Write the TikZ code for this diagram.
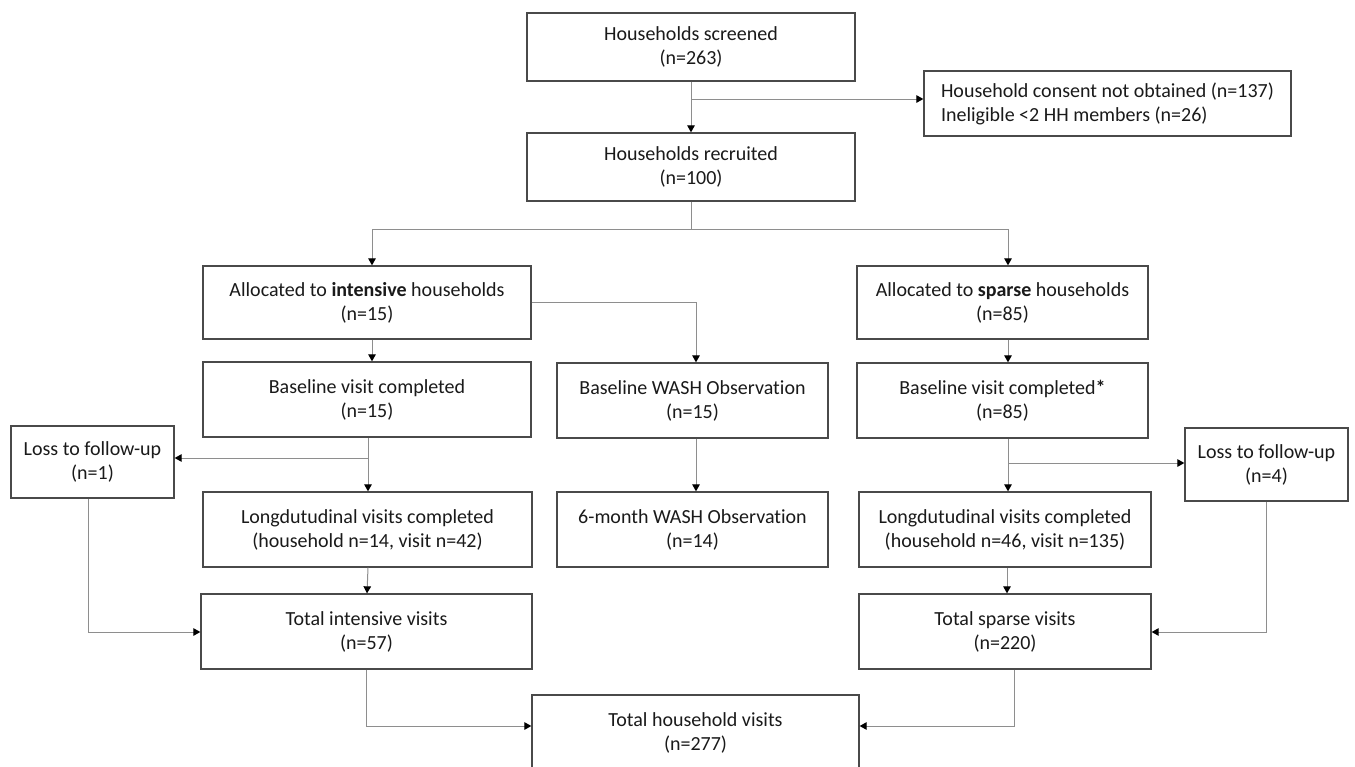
\documentclass[tikz,border=0pt]{standalone}
\usepackage{fontspec}
\setmainfont{Carlito}[Ligatures=NoCommon]
\usetikzlibrary{arrows.meta}
\definecolor{boxline}{HTML}{4A4A4A}
\definecolor{linkline}{HTML}{8E8E8E}
\definecolor{txt}{HTML}{1A1A1A}
\begin{document}
\begin{tikzpicture}[x=1pt,y=-1pt,
  stepbox/.style={draw=boxline,line width=1.3pt,fill=white,text=txt,align=center,
    inner sep=0pt,font=\fontsize{20}{24}\selectfont},
  link/.style={draw=linkline,line width=1pt},
  arr/.style={link,-{Triangle[width=7.5pt,length=7pt,color=black]}}]
\useasboundingbox (0,0) rectangle (1355,766);
\fill[white] (0,0) rectangle (1355,766);

% boxes
\node[stepbox,minimum width=328,minimum height=68] (scr) at (691,47) {Households screened\\(n=263)};
\node[stepbox,minimum width=367,minimum height=65,align=left] (cons) at (1107.5,103.5)
  {Household consent not obtained (n=137)\\Ineligible <2 HH members (n=26)};
\node[stepbox,minimum width=328,minimum height=68] (rec) at (691,167) {Households recruited\\(n=100)};

\node[stepbox,minimum width=328,minimum height=73] (ai) at (367,302.5) {Allocated to \textbf{intensive} households\\(n=15)};
\node[stepbox,minimum width=291,minimum height=73] (as) at (1002.5,302.5) {Allocated to \textbf{sparse} households\\(n=85)};

\node[stepbox,minimum width=328,minimum height=75] (bi) at (367,399.5) {Baseline visit completed\\(n=15)};
\node[stepbox,minimum width=271,minimum height=75] (wash) at (692.5,400.5) {Baseline WASH Observation\\(n=15)};
\node[stepbox,minimum width=291,minimum height=75] (bs) at (1002.5,400.5) {Baseline visit completed\textbf{*}\\(n=85)};

\node[stepbox,minimum width=163,minimum height=72] (lossL) at (92.5,462) {Loss to follow-up\\(n=1)};
\node[stepbox,minimum width=163,minimum height=73] (lossR) at (1266.5,464.5) {Loss to follow-up\\(n=4)};

\node[stepbox,minimum width=329,minimum height=75] (li) at (367.5,529.5) {Longdutudinal visits completed\\(household n=14, visit n=42)};
\node[stepbox,minimum width=271,minimum height=75] (six) at (692.5,529.5) {6-month WASH Observation\\(n=14)};
\node[stepbox,minimum width=292,minimum height=75] (ls) at (1005,529.5) {Longdutudinal visits completed\\(household n=46, visit n=135)};

\node[stepbox,minimum width=331,minimum height=75] (ti) at (366.5,631.5) {Total intensive visits\\(n=57)};
\node[stepbox,minimum width=292,minimum height=75] (ts) at (1005,631.5) {Total sparse visits\\(n=220)};

\node[stepbox,minimum width=327,minimum height=75] (th) at (695.5,732.5) {Total household visits\\(n=277)};

% branch points
\coordinate (brA) at (691,99);
\coordinate (split) at (691,229);
\coordinate (brL) at (368,458);
\coordinate (brR) at (1008,463);

% connectors
\draw[arr] (scr.south) -- (rec.north);
\draw[arr] (brA) -- (brA -| cons.west);
\draw[link] (rec.south) -- (split);
\draw[arr] (split) -| ([xshift=5]ai.north);
\draw[arr] (split) -| ([xshift=5.5]as.north);

\draw[arr] ([xshift=5]ai.south) -- ([xshift=5]bi.north);
\draw[arr] ([xshift=5.5]as.south) -- ([xshift=5.5]bs.north);
\draw[arr] (ai.east) -| ([xshift=3.5]wash.north);
\draw[arr] ([xshift=3.5]wash.south) -- ([xshift=3.5]six.north);

\draw[arr] ([xshift=1]bi.south) -- ([xshift=0.5]li.north);
\draw[arr] (brL) -- (brL -| lossL.east);
\draw[arr] ([xshift=5.5]bs.south) -- ([xshift=3]ls.north);
\draw[arr] (brR) -- (brR -| lossR.west);

\draw[arr] ([xshift=0.5]li.south) -- ([xshift=0.5]ti.north);
\draw[arr] ([xshift=2]ls.south) -- ([xshift=2]ts.north);

\draw[arr] ([xshift=-4.5]lossL.south) |- ([yshift=-0.5]ti.west);
\draw[arr] (lossR.south) |- ([yshift=-0.5]ts.east);

\draw[arr] (ti.south) |- ([yshift=6.5]th.west);
\draw[arr] ([xshift=9]ts.south) |- ([yshift=6.5]th.east);
\end{tikzpicture}
\end{document}
